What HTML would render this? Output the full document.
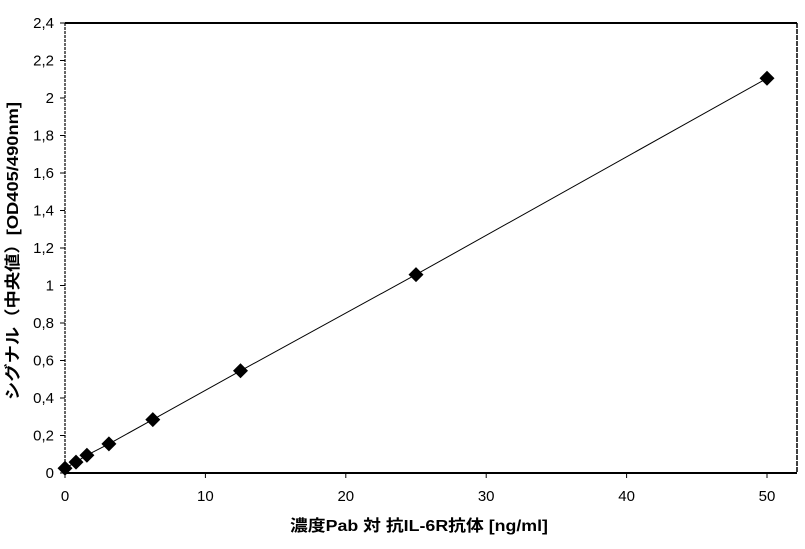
<!DOCTYPE html>
<html>
<head>
<meta charset="utf-8">
<style>
html,body{margin:0;padding:0;background:#fff;}
svg{display:block;}
text{font-family:"Liberation Sans","Noto Sans CJK JP",sans-serif;fill:#000;}
</style>
</head>
<body>
<svg width="805" height="549" viewBox="0 0 805 549" xmlns="http://www.w3.org/2000/svg">
<rect width="805" height="549" fill="#fff"/>
<!-- plot frame -->
<line x1="65" y1="23" x2="797" y2="23" stroke="#000" stroke-width="2"/>
<line x1="797" y1="23" x2="797" y2="473" stroke="#000" stroke-width="1.5" stroke-dasharray="5,1"/>
<line x1="65" y1="23" x2="65" y2="473" stroke="#000" stroke-width="1.2" stroke-dasharray="3,1"/>
<line x1="64" y1="473" x2="797" y2="473" stroke="#000" stroke-width="2"/>
<!-- y ticks -->
<g stroke="#000" stroke-width="1">
<line x1="60" y1="23" x2="65" y2="23"/>
<line x1="60" y1="60.5" x2="65" y2="60.5"/>
<line x1="60" y1="98" x2="65" y2="98"/>
<line x1="60" y1="135.5" x2="65" y2="135.5"/>
<line x1="60" y1="173" x2="65" y2="173"/>
<line x1="60" y1="210.5" x2="65" y2="210.5"/>
<line x1="60" y1="248" x2="65" y2="248"/>
<line x1="60" y1="285.5" x2="65" y2="285.5"/>
<line x1="60" y1="323" x2="65" y2="323"/>
<line x1="60" y1="360.5" x2="65" y2="360.5"/>
<line x1="60" y1="398" x2="65" y2="398"/>
<line x1="60" y1="435.5" x2="65" y2="435.5"/>
<line x1="60" y1="473" x2="65" y2="473"/>
</g>
<!-- x ticks -->
<g stroke="#000" stroke-width="1">
<line x1="65" y1="473" x2="65" y2="478"/>
<line x1="205.4" y1="473" x2="205.4" y2="478"/>
<line x1="345.8" y1="473" x2="345.8" y2="478"/>
<line x1="486.2" y1="473" x2="486.2" y2="478"/>
<line x1="626.6" y1="473" x2="626.6" y2="478"/>
<line x1="767" y1="473" x2="767" y2="478"/>
</g>
<!-- y tick labels -->
<g font-size="15" text-anchor="end">
<text x="54" y="28">2,4</text>
<text x="54" y="65.5">2,2</text>
<text x="54" y="103">2</text>
<text x="54" y="140.5">1,8</text>
<text x="54" y="178">1,6</text>
<text x="54" y="215.5">1,4</text>
<text x="54" y="253">1,2</text>
<text x="54" y="290.5">1</text>
<text x="54" y="328">0,8</text>
<text x="54" y="365.5">0,6</text>
<text x="54" y="403">0,4</text>
<text x="54" y="440.5">0,2</text>
<text x="54" y="478">0</text>
</g>
<!-- x tick labels -->
<g font-size="15" text-anchor="middle">
<text x="65" y="501">0</text>
<text x="205.4" y="501">10</text>
<text x="345.8" y="501">20</text>
<text x="486.2" y="501">30</text>
<text x="626.6" y="501">40</text>
<text x="767" y="501">50</text>
</g>
<!-- data line -->
<polyline fill="none" stroke="#000" stroke-width="1" points="65,468.3 76,462.1 86.9,455.2 108.9,443.9 152.8,419.6 240.5,370.8 416,274.6 767,78.3"/>
<!-- markers -->
<g fill="#000">
<path d="M65,460.8 L72.5,468.3 L65,475.8 L57.5,468.3 Z"/>
<path d="M76,454.6 L83.5,462.1 L76,469.6 L68.5,462.1 Z"/>
<path d="M86.9,447.7 L94.4,455.2 L86.9,462.7 L79.4,455.2 Z"/>
<path d="M108.9,436.4 L116.4,443.9 L108.9,451.4 L101.4,443.9 Z"/>
<path d="M152.8,412.1 L160.3,419.6 L152.8,427.1 L145.3,419.6 Z"/>
<path d="M240.5,363.3 L248,370.8 L240.5,378.3 L233,370.8 Z"/>
<path d="M416,267.1 L423.5,274.6 L416,282.1 L408.5,274.6 Z"/>
<path d="M767,70.8 L774.5,78.3 L767,85.8 L759.5,78.3 Z"/>
</g>
<!-- axis titles -->
<text x="419" y="531" font-size="16" font-weight="bold" text-anchor="middle" textLength="258" lengthAdjust="spacingAndGlyphs">濃度Pab 対 抗IL-6R抗体 [ng/ml]</text>
<text transform="translate(18,251) rotate(-90)" x="0" y="0" font-size="16" font-weight="bold" text-anchor="middle" textLength="298" lengthAdjust="spacingAndGlyphs">シグナル（中央値）[OD405/490nm]</text>
</svg>
</body>
</html>
